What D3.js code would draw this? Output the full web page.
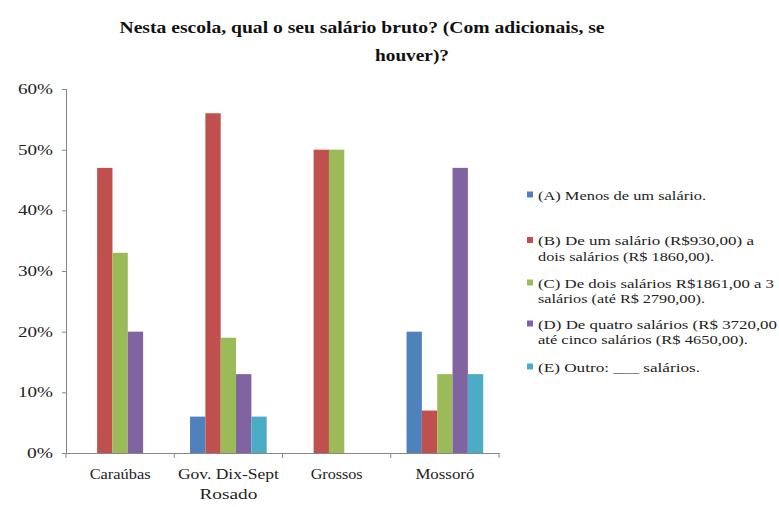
<!DOCTYPE html>
<html><head><meta charset="utf-8">
<script src="https://cdn.jsdelivr.net/npm/d3@7"></script>
</head><body style="margin:0">
<svg id="c" width="779" height="507"></svg>
<script>
const categories = [["Caraúbas"], ["Gov. Dix-Sept", "Rosado"], ["Grossos"], ["Mossoró"]];
const seriesNames = [
  ["(A) Menos de um salário."],
  ["(B)  De um salário (R$930,00) a", "dois salários (R$ 1860,00)."],
  ["(C) De dois salários R$1861,00 a 3", "salários (até R$ 2790,00)."],
  ["(D) De quatro salários (R$ 3720,00", "até cinco salários (R$ 4650,00)."],
  ["(E) Outro: ___ salários."]
];
const serA = [0, 6, 0, 20];
const serB = [47, 56, 50, 7];
const serC = [33, 19, 50, 13];
const serD = [20, 13, 0, 47];
const serE = [0, 6, 0, 13];
const yTicks = [0, 10, 20, 30, 40, 50, 60];
const colors = ["#4F81BD", "#C0504D", "#9BBB59", "#8064A2", "#4BACC6"];
const allSeries = [serA, serB, serC, serD, serE];

// layout-only widths of rendered strings (match the reference's stretched text)
const catLabelW = [[61], [101, 58], [52], [59]];
const legendW = [[168], [216, 176], [236, 167], [239, 210], [162]];

const svg = d3.select("#c");
const font = "Liberation Serif";

const x0 = 66, x1 = 499, yb = 453, yt = 89;
const x = d3.scaleBand().domain(d3.range(categories.length)).range([x0, x1]).paddingInner(0).paddingOuter(0);
const xs = d3.scaleBand().domain(d3.range(allSeries.length)).range([0, x.bandwidth()]).paddingInner(0).paddingOuter(1.03);
const y = d3.scaleLinear().domain([0, 60]).range([yb, yt]);

function txt(sel) { return sel.style("font-family", font); }

// title
txt(svg.append("text")).attr("x", 362).attr("y", 33).attr("text-anchor", "middle")
  .attr("font-weight", "bold").attr("font-size", 17).attr("fill", "#111")
  .attr("textLength", 485).attr("lengthAdjust", "spacingAndGlyphs")
  .text("Nesta escola, qual o seu salário bruto? (Com adicionais, se");
txt(svg.append("text")).attr("x", 412).attr("y", 61).attr("text-anchor", "middle")
  .attr("font-weight", "bold").attr("font-size", 17).attr("fill", "#111")
  .attr("textLength", 74).attr("lengthAdjust", "spacingAndGlyphs")
  .text("houver)?");

// bars
allSeries.forEach((ser, si) => {
  svg.append("g").selectAll("rect").data(ser).join("rect")
    .attr("x", (d, i) => x(i) + xs(si))
    .attr("width", xs.bandwidth())
    .attr("y", d => y(d))
    .attr("height", d => yb - y(d))
    .attr("fill", colors[si]);
});

// y axis
const ya = svg.append("g").attr("transform", `translate(${x0},0)`)
  .call(d3.axisLeft(y).tickValues(yTicks).tickFormat(d => d + "%").tickSize(4).tickPadding(9));
ya.attr("font-family", null);
ya.select(".domain").attr("stroke", "#868686");
ya.selectAll(".tick line").attr("stroke", "#868686");
ya.selectAll("text").style("font-family", font).attr("font-size", 14).attr("fill", "#222")
  .attr("textLength", d => d === 0 ? 26 : 35).attr("lengthAdjust", "spacingAndGlyphs");

// x axis
const xa = svg.append("g").attr("transform", `translate(0,${yb})`)
  .call(d3.axisBottom(x).tickSize(0).tickFormat(""));
xa.select(".domain").attr("stroke", "#868686");
svg.append("g").selectAll("line").data(d3.range(categories.length + 1)).join("line")
  .attr("x1", i => x0 + i * x.bandwidth()).attr("x2", i => x0 + i * x.bandwidth())
  .attr("y1", yb).attr("y2", yb + 5).attr("stroke", "#868686");
categories.forEach((lines, i) => {
  lines.forEach((l, k) => {
    txt(svg.append("text")).attr("text-anchor", "middle")
      .attr("font-size", 14).attr("fill", "#222")
      .attr("x", x(i) + x.bandwidth() / 2).attr("y", 479 + k * 20)
      .attr("textLength", catLabelW[i][k]).attr("lengthAdjust", "spacingAndGlyphs")
      .text(l);
  });
});

// legend
const legY = [195, 240.5, 283, 324, 367];
seriesNames.forEach((lines, i) => {
  svg.append("rect").attr("x", 527).attr("y", legY[i] - 3.5).attr("width", 6).attr("height", 6).attr("fill", colors[i]);
  lines.forEach((l, k) => {
    txt(svg.append("text")).attr("font-size", 13).attr("fill", "#222")
      .attr("x", 538).attr("y", legY[i] + 4.5 + k * 15.5)
      .attr("textLength", legendW[i][k]).attr("lengthAdjust", "spacingAndGlyphs")
      .text(l);
  });
});
</script>
</body></html>
